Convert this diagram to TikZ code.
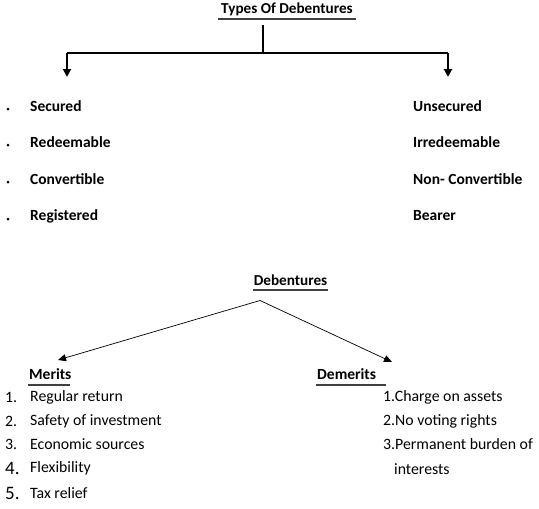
\documentclass[tikz,border=0pt]{standalone}
\usepackage{fontspec}
\setmainfont{Carlito}
\usetikzlibrary{arrows.meta}
\begin{document}
\begin{tikzpicture}[x=1pt,y=-1pt,
  title/.style={font=\bfseries\fontsize{15.2}{17}\selectfont, inner sep=0pt},
  itembold/.style={font=\bfseries\fontsize{15.5}{17}\selectfont, anchor=west, inner sep=0pt},
  itemreg/.style={font=\fontsize{15.8}{17}\selectfont, anchor=west, inner sep=0pt},
  bulletdot/.style={circle, fill=black, inner sep=0pt, minimum size=3pt},
  ul/.style={line width=1.6pt, draw=black!75},
  thick2/.style={line width=1.8pt},
  arr/.style={line width=0.7pt, -{Triangle[length=8pt,width=7pt]}},
  arrtop/.style={line width=1.8pt, -{Triangle[length=8pt,width=8pt]}}]
\useasboundingbox (0,0) rectangle (539,509);
% top part
\node[title] (types) at (287,9) {Types Of Debentures};
\draw[ul] (218,19) -- (356,19);
\coordinate (vtop) at (263,25);
\coordinate (vbot) at (263,53);
\coordinate (hl) at (67,53);
\coordinate (hr) at (448,53);
\coordinate (tl) at (67,77);
\coordinate (tr) at (448,77);
\draw[thick2] (vtop) -- (vbot);
\draw[thick2] (hl) -- (hr);
\draw[arrtop] (hl) -- (tl);
\draw[arrtop] (hr) -- (tr);
% left list
\foreach \y/\t [count=\i] in {106/Secured,142/Redeemable,179/Convertible,216/Registered}{
  \node[bulletdot] (b\i) at (8,\y+3) {};
  \node[itembold] (l\i) at (30,\y) {\t};
}
% right list
\foreach \y/\t [count=\i] in {106/Unsecured,142/Irredeemable,179/Non- Convertible,216/Bearer}{
  \node[itembold] (r\i) at (413,\y) {\t};
}
% bottom part
\node[title] (deb) at (290.5,280) {Debentures};
\draw[ul] (253,290) -- (328,290);
\coordinate (apex) at (260,300.5);
\coordinate (mtip) at (58,360);
\coordinate (dtip) at (392,362);
\draw[arr] (apex) -- (mtip);
\draw[arr] (apex) -- (dtip);
\node[itembold] (merits) at (29,374) {Merits};
\draw[ul] (28,385) -- (70,385);
\node[itembold] (demerits) at (317,374) {Demerits};
\draw[ul] (316,385) -- (386,385);
% merits list
\node[itemreg] (m1n) at (5,397) {1.};
\node[itemreg] (m1) at (30,397) {Regular return};
\node[itemreg] (m2n) at (5,421) {2.};
\node[itemreg] (m2) at (30,421) {Safety of investment};
\node[itemreg] (m3n) at (5,444) {3.};
\node[itemreg] (m3) at (30,444) {Economic sources};
\node[itemreg, font=\fontsize{19}{21}\selectfont] (m4n) at (5,468) {4.};
\node[itemreg] (m4) at (30,468) {Flexibility};
\node[itemreg, font=\fontsize{19}{21}\selectfont] (m5n) at (5,493) {5.};
\node[itemreg] (m5) at (30,493) {Tax relief};
% demerits list
\node[itemreg] (d1) at (383,397) {1.Charge on assets};
\node[itemreg] (d2) at (383,421) {2.No voting rights};
\node[itemreg] (d3) at (383,444) {3.Permanent burden of};
\node[itemreg] (d4) at (394,469) {interests};
\end{tikzpicture}
\end{document}
